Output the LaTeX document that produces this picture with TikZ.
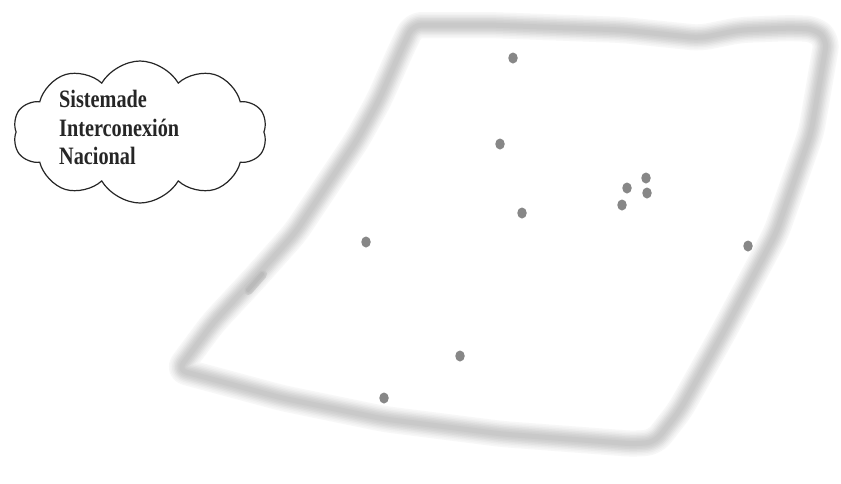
\documentclass[tikz,border=0pt]{standalone}
\usepackage{fontspec}
\newfontfamily\cloudfont[FakeStretch=0.81]{Liberation Serif}
\usetikzlibrary{shapes.symbols,shapes.geometric}
\tikzset{
  site/.style={ellipse, fill=black!47, inner sep=0pt, minimum width=9.5pt, minimum height=11pt},
  cloudshape/.style={cloud, draw=black!85, line width=1.2pt, cloud puffs=10, cloud puff arc=120, aspect=1.8, minimum width=254pt, minimum height=142pt, inner sep=0pt},
  cloudtext/.style={anchor=north west, align=left, inner sep=0pt, font=\cloudfont\bfseries\fontsize{25}{28.5}\selectfont, text=black!85},
}
\begin{document}
\begin{tikzpicture}[x=1pt,y=-1pt]
\useasboundingbox (0,0) rectangle (841,483);
\fill[white] (0,0) rectangle (841,483);
% blurred region outline
\def\outline{[rounded corners=9pt] (413,25) -- (490,25) -- (623,30) -- (700,38) -- (740,30) -- (790,28) -- (815,29) -- (827,40) -- (811,133) -- (776,233) -- (723,333) -- (680,410) -- (655,442) -- (635,444) -- (502,434) -- (384,419) -- (282,398) -- (178,370) -- (213,323) -- (253,280) -- (295,233) -- (357,140) -- (379,100) -- (401,50) -- cycle}
\foreach \w/\c in {26/3,23/5,20/8,17/11,14/14,11/17,8/19,5/21}{
  \draw[black!\c, line width=\w pt, line join=round] \outline;
}
% darker smear on the left edge
\foreach \w/\c in {10/21,7/24,4/27}{
  \draw[black!\c, line width=\w pt, line cap=round] (248,290) -- (262,274);
}
% cloud
\node[cloudshape] (sin) at (140,132) {};
\node[cloudtext] (sintext) at (59,90) {Sistemade\\Interconexión\\Nacional};
% sites
\node[site] (d1) at (513,58) {};
\node[site] (d2) at (500,144) {};
\node[site] (d3) at (522,213) {};
\node[site] (d4) at (366,242) {};
\node[site] (d5) at (627,188) {};
\node[site] (d6) at (646,178) {};
\node[site] (d7) at (647,193) {};
\node[site] (d8) at (622,205) {};
\node[site] (d9) at (748,246) {};
\node[site] (d10) at (460,356) {};
\node[site] (d11) at (384,398) {};
\end{tikzpicture}
\end{document}
